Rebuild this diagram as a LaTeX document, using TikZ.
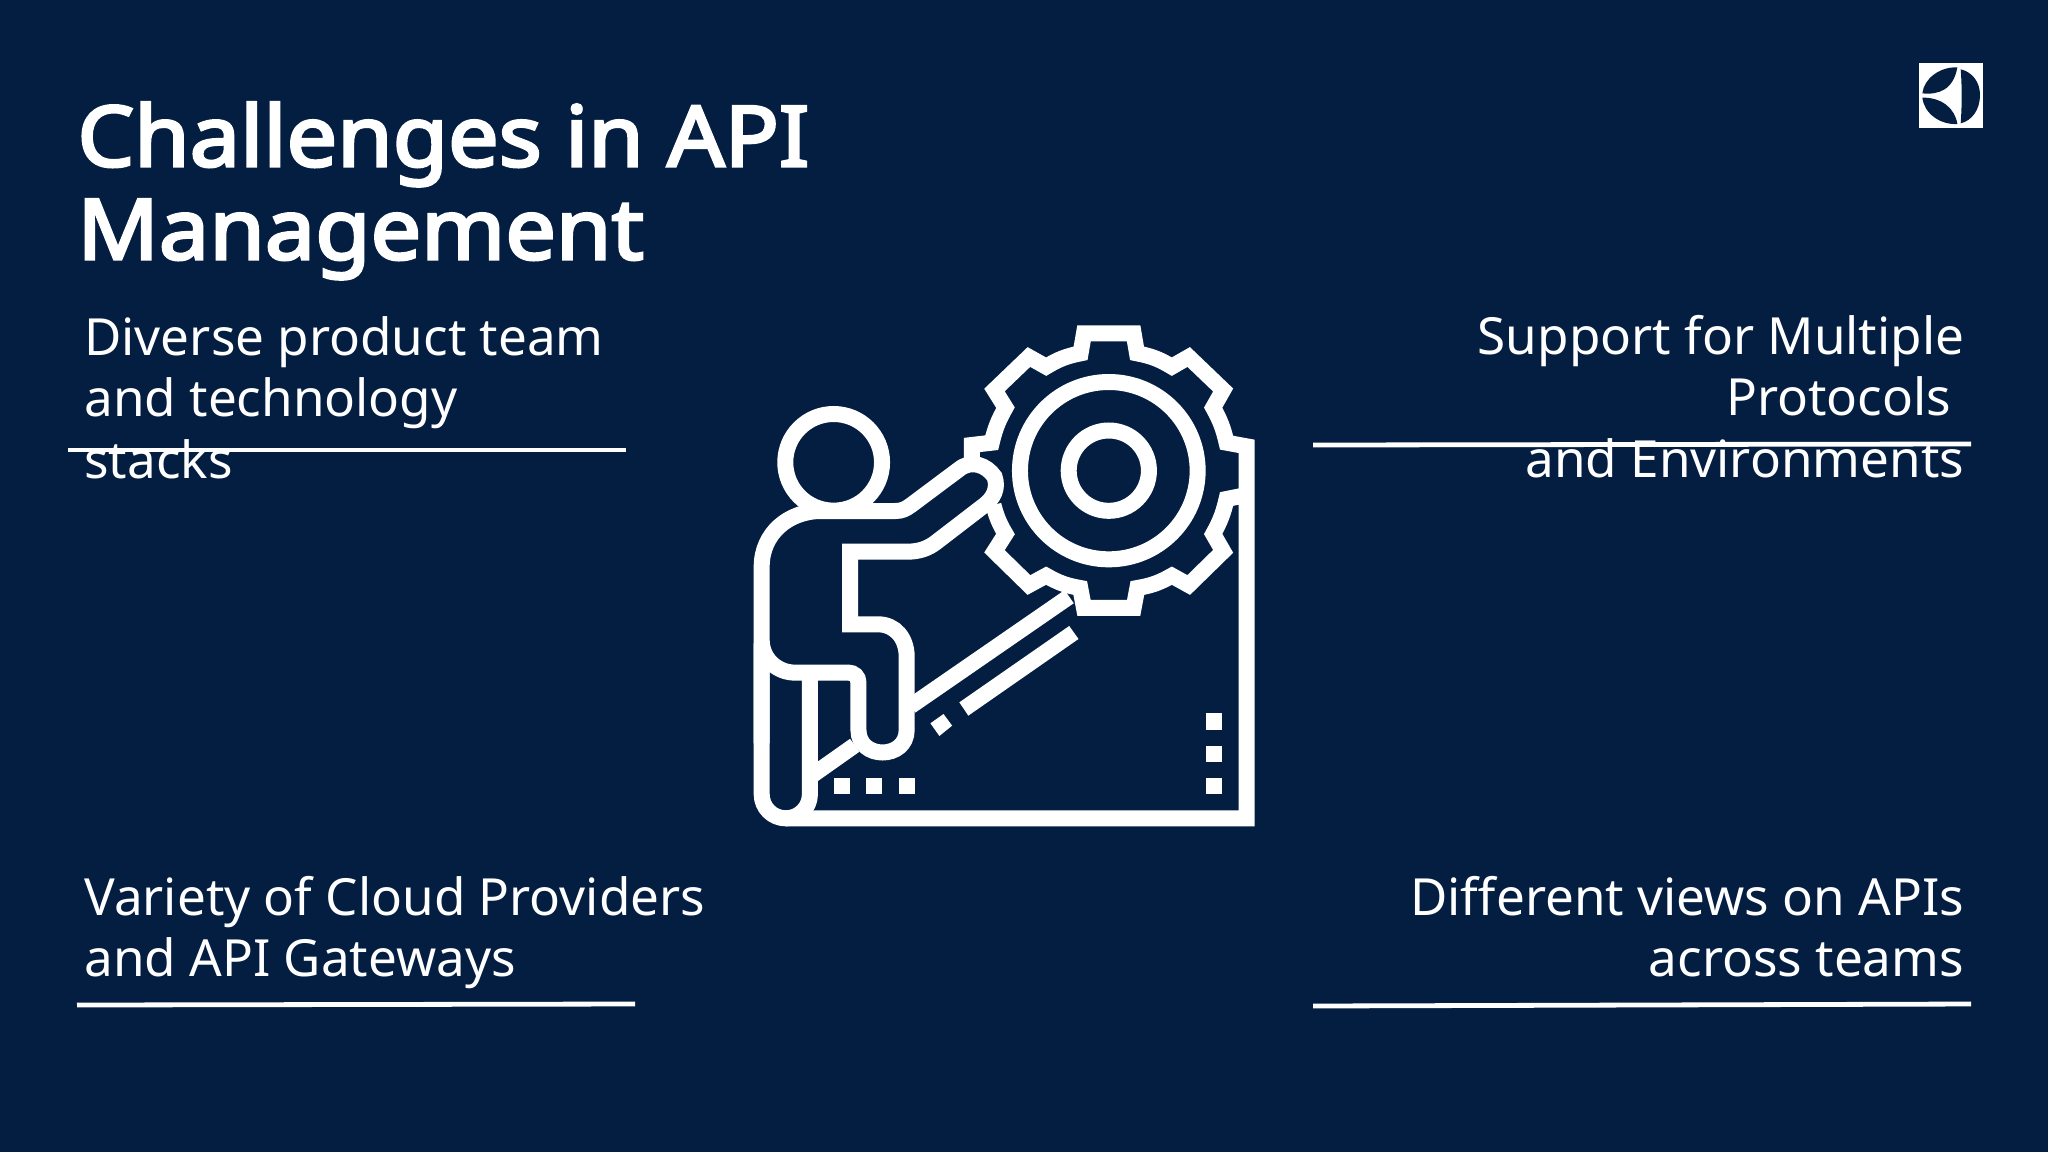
\documentclass[tikz,border=0pt]{standalone}
\usepackage{fontspec}
\setmainfont{Noto Sans}
\newfontfamily\ttlfont{Noto Sans}[FakeBold=3.4,FakeStretch=1.07]
\definecolor{navy}{HTML}{041E42}
\tikzset{
  titletext/.style={anchor=north west,inner sep=0pt,text=white,align=left,font=\ttlfont\fontsize{42}{46.5}\selectfont},
  bodyl/.style={anchor=north west,inner sep=0pt,text=white,align=left,font=\fontsize{25.6}{30.7}\selectfont},
  bodyr/.style={anchor=north east,inner sep=0pt,text=white,align=right,font=\fontsize{25.6}{30.7}\selectfont},
  rule/.style={draw=white,line width=2.4pt},
  ico/.style={draw=white,line width=8pt,miter limit=10,fill=none},
}
\begin{document}
\begin{tikzpicture}[x=0.5pt,y=-0.5pt]
\useasboundingbox (0,0) rectangle (2048,1152);
\fill[navy] (0,0) rectangle (2048,1152);
% texts
\node[titletext] (title) at (77,102) {Challenges in API\\Management};
\node[bodyl] (tl) at (84,316) {Diverse product team\\and technology\\stacks};
\node[bodyr] (tr) at (1964.5,315) {Support for Multiple\\Protocols\rule{6.5pt}{0pt}\\and Environments};
\node[bodyl] (bl) at (84,876) {Variety of Cloud Providers\\and API Gateways};
\node[bodyr] (br) at (1964.5,876) {Different views on APIs\\across teams};
% rules
\coordinate (r1a) at (68,450); \coordinate (r1b) at (626,450);
\coordinate (r2a) at (1313,445); \coordinate (r2b) at (1971,444);
\coordinate (r3a) at (77,1005); \coordinate (r3b) at (635,1004);
\coordinate (r4a) at (1313,1006); \coordinate (r4b) at (1971,1004);
\draw[rule] (r1a)--(r1b); \draw[rule] (r2a)--(r2b); \draw[rule] (r3a)--(r3b); \draw[rule] (r4a)--(r4b);
% icon, in crop coordinates
\begin{scope}[shift={(730,310)},x=0.5pt/2.904,y=-0.5pt/3]
% gear rings
\draw[ico] (1100,482) ellipse[x radius=258,y radius=266];
\draw[ico] (1100,482) ellipse[x radius=116.5,y radius=120.5];
% gear
\draw[ico,line join=miter]
 (702,445)--(702,405)--(760,398) to[bend left=8] (800,293)--(768,240)--(868,141)--(918,170)
 to[bend left=10] (1018,130)--(1028,70)--(1172,70)--(1182,130)
 to[bend left=10] (1283,170)--(1332,141)--(1432,240)--(1403,293)
 to[bend left=8] (1442,398)--(1500,409)--(1500,1525)--(162,1525);
\draw[ico,line join=miter]
 (1500,555)--(1442,567) to[bend left=8] (1403,672)--(1432,724)--(1332,825)--(1283,797)
 to[bend left=10] (1183,834)--(1172,894)--(1028,894)--(1017,834)
 to[bend left=10] (918,797)--(868,825)--(768,724)--(800,672) to[bend left=8] (765,585);
% person
\draw[ico] (301,457) ellipse[x radius=140.5,y radius=145];
\draw[ico,line join=miter,line cap=butt]
 (92,1300)--(92,770) .. controls (92,670) and (170,603) .. (265,603)
 --(480,603) .. controls (500,603) and (510,597) .. (525,586)
 --(665,478) .. controls (700,448) and (745,465) .. (768,500)
 .. controls (780,535) and (765,565) .. (738,586)
 --(597,698) .. controls (575,715) and (550,725) .. (515,725)
 --(349,725)--(349,943)--(430,943) .. controls (480,943) and (513,985) .. (513,1040)
 --(513,1260) .. controls (513,1350) and (373,1350) .. (373,1260)
 --(373,1118) .. controls (373,1100) and (360,1088) .. (345,1088)
 --(190,1088) .. controls (135,1088) and (92,1045) .. (92,990);
% leg
\draw[ico,line join=round] (92,1000)--(92,1453) arc[start angle=180,end angle=0,x radius=70,y radius=72]--(232,1088);
\draw[ico,line cap=butt] (240,1395)--(362,1306);
\draw[ico,line cap=butt] (525,1188)--(985,860);
% solid marks
\fill[white] (985,948)--(1012,987)--(692,1217)--(666,1177)--cycle;
\fill[white] (620,1212)--(645,1247)--(608,1278)--(582,1240)--cycle;
\fill[white] (302,1405) rectangle (348,1453);
\fill[white] (396,1405) rectangle (442,1453);
\fill[white] (490,1405) rectangle (536,1453);
\fill[white] (1382,1210) rectangle (1429,1259);
\fill[white] (1382,1307) rectangle (1429,1356);
\fill[white] (1382,1405) rectangle (1429,1453);
\end{scope}
% logo, crop coordinates
\begin{scope}[shift={(1900,50)},x=0.5pt/3,y=-0.5pt/3]
\fill[white] (57,40) rectangle (250,235);
\fill[navy] (172,52) .. controls (120,50) and (72,85) .. (67,130) .. controls (115,135) and (160,120) .. (172,52)--cycle;
\fill[navy] (67,143) .. controls (72,190) and (120,225) .. (172,222) .. controls (165,175) and (125,142) .. (67,143)--cycle;
\fill[navy] (182,58) .. controls (215,65) and (240,95) .. (240,135) .. controls (240,180) and (215,212) .. (182,220) .. controls (186,165) and (186,110) .. (182,58)--cycle;
\end{scope}
\end{tikzpicture}
\end{document}
